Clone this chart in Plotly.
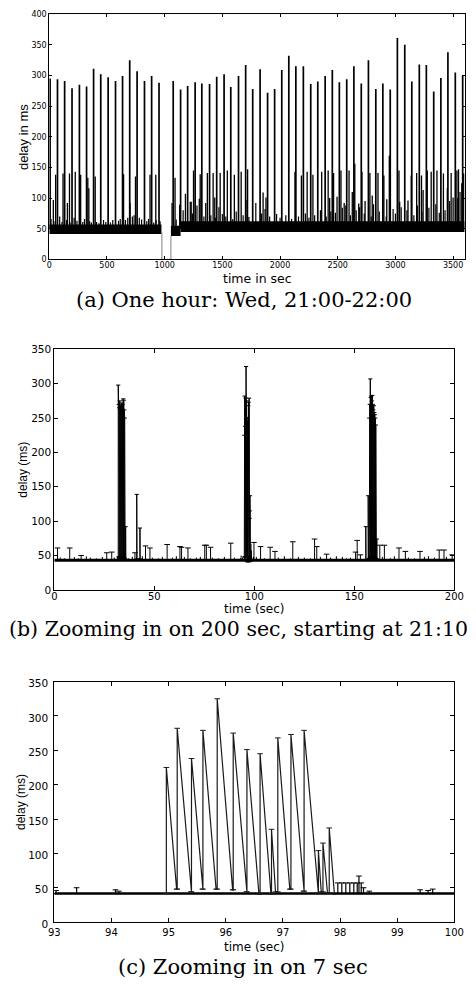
import plotly.graph_objects as go

W, H = 476, 985

# ---------------- Panel (a): one hour ----------------
A_big_t = [7, 71, 133, 197, 261, 323, 384, 446, 510, 574, 635, 697, 761, 825, 887, 951,
           1074, 1138, 1199, 1264, 1322, 1389, 1451, 1515, 1573, 1640, 1702, 1763, 1827,
           1892, 1953, 2015, 2076, 2137, 2202, 2266, 2327, 2391, 2453, 2514, 2578, 2640,
           2704, 2766, 2830, 2891, 2955, 3017, 3081, 3142, 3207, 3268, 3332, 3394, 3455,
           3519, 3583]
A_big_v = [295, 294, 291, 279, 285, 282, 311, 302, 297, 291, 299, 325, 307, 291, 299, 288,
           291, 277, 283, 289, 287, 286, 298, 302, 281, 299, 317, 278, 310,
           272, 278, 309, 332, 315, 315, 286, 290, 299, 309, 289, 294, 315,
           287, 325, 278, 287, 277, 361, 350, 290, 318, 317, 274, 296, 338,
           305, 300]
A_mid_t = [35, 55, 119, 157, 175, 225, 272, 334, 343, 398, 644, 700, 747, 873, 923, 1064,
           1090, 1130, 1180, 1222, 1230, 1250, 1300, 1308, 1356, 1370, 1420, 1434, 1481,
           1543, 1604, 1663, 1705, 1719, 1853, 1878, 2129, 2185, 2235, 2285, 2361, 2417,
           2430, 2464, 2494, 2528, 2556, 2598, 2626, 2648, 2682, 2710, 2737, 2779, 2799,
           2849, 2900, 2925, 2947, 3031, 3037, 3109, 3137, 3184, 3226, 3240, 3276, 3310,
           3360, 3416, 3450, 3483, 3500, 3533, 3547, 3575, 3592]
A_mid_v = [97, 138, 140, 92, 140, 143, 138, 133, 116, 135, 139, 92, 135, 138, 138, 92,
           133, 89, 107, 94, 94, 145, 99, 139, 92, 141, 141, 101, 141,
           145, 138, 143, 97, 147, 109, 101, 143, 137, 143, 138, 143, 145,
           100, 141, 102, 145, 92, 145, 110, 156, 91, 143, 95, 141, 104,
           141, 137, 98, 169, 145, 94, 96, 137, 141, 137, 113, 145, 143,
           145, 140, 116, 141, 101, 145, 147, 124, 140]
A_small_t = [15, 40, 90, 110, 150, 180, 215, 240, 290, 305, 350, 365, 410, 430, 470, 490,
             530, 550, 600, 615, 660, 680, 720, 735, 780, 800, 845, 860, 905, 925, 960,
             1100, 1160, 1240, 1280, 1340, 1400, 1440, 1470, 1500, 1530, 1590, 1620, 1680,
             1730, 1790, 1840, 1870, 1910, 1970, 2000, 2050, 2100, 2160, 2220, 2250, 2300,
             2350, 2400, 2440, 2480, 2540, 2570, 2610, 2660, 2690, 2730, 2790, 2810, 2860,
             2920, 2980, 3000, 3050, 3100, 3160, 3190, 3230, 3290, 3350, 3380, 3430, 3470,
             3540, 3560]
A_small_v = [66, 62, 70, 61, 64, 60, 68, 63, 61, 66, 62, 60, 61, 59, 64, 61,
             60, 64, 63, 66, 64, 68, 70, 72, 68, 65, 62, 66, 60, 64, 62,
             65, 80, 75, 88, 70, 72, 68, 85, 74, 70, 66, 78, 72,
             69, 92, 75, 82, 70, 74, 68, 72, 66, 70, 75, 68, 72,
             80, 70, 78, 76, 84, 88, 72, 80, 85, 75, 70, 90, 78,
             70, 82, 75, 85, 80, 72, 88, 78, 84, 90, 76, 80, 95,
             100, 110]
A_band_start = [0, 1054, 1138]
A_band_end = [972, 1138, 3600]
A_band_lo = [41.5, 38, 44.5]
A_band_hi = [57, 55, 62]
A_gap_t = [972, 976, 976, 1054, 1054, 1058]
A_gap_v = [44, 44, 0, 0, 38, 38]
A_xticks = [0, 500, 1000, 1500, 2000, 2500, 3000, 3500]
A_yticks = [0, 50, 100, 150, 200, 250, 300, 350, 400]

# ---------------- Panel (c): 7 seconds (also part of panel b) ----------------
C_peak_t = [94.96, 95.15, 95.40, 95.60, 95.85, 96.13, 96.37, 96.60, 96.80, 96.91, 97.14, 97.37, 97.62, 97.70, 97.81]
C_peak_v = [225, 282, 238, 279, 325, 275, 251, 245, 135, 268, 273, 279, 104, 115, 137]
C_end_t = [95.14, 95.39, 95.59, 95.83, 96.12, 96.36, 96.58, 96.79, 96.87, 97.12, 97.36, 97.61, 97.67, 97.78, 97.90]
C_end_v = [48, 44, 48, 48, 47, 44, 41, 41, 44, 48, 45, 42, 44, 42, 41]
C_spk_t = [93.03, 93.39, 94.07, 94.13, 97.96, 98.03, 98.10, 98.17, 98.24, 98.30, 98.33, 98.37, 98.41, 98.51, 99.40, 99.54, 99.62]
C_spk_v = [46, 50, 47, 45, 57, 57, 57, 57, 57, 57, 67, 57, 50, 45, 47, 46, 48]
C_base = 41.5
C_xticks = [93, 94, 95, 96, 97, 98, 99, 100]
BC_yticks = [0, 50, 100, 150, 200, 250, 300, 350]

# ---------------- Panel (b): 200 seconds ----------------
B1_peak_t = [31.95, 32.2, 32.45, 32.7, 32.95, 33.2, 33.45, 33.7, 33.95, 34.2, 34.45, 34.7, 34.95, 35.2, 35.65]
B1_peak_v = [298, 270, 265, 275, 262, 268, 258, 272, 264, 270, 278, 276, 262, 250, 92]
B1_end_t = [32.18, 32.43, 32.68, 32.93, 33.18, 33.43, 33.68, 33.93, 34.18, 34.43, 34.68, 34.93, 35.18, 35.4, 35.72]
B1_end_v = [48, 46, 47, 45, 48, 46, 47, 45, 46, 48, 47, 45, 46, 44, 43]
B2_peak_t = [41.2, 42.8]
B2_peak_v = [139, 90]
B2_end_t = [41.32, 42.9]
B2_end_v = [45, 44]
B4_peak_t = [155.7, 156.9, 157.45, 157.7, 157.95, 158.2, 158.45, 158.7, 158.95, 159.2, 159.45, 159.7, 159.95, 160.2, 160.45, 160.7, 161.2]
B4_peak_v = [92, 137, 250, 270, 307, 280, 282, 275, 283, 270, 262, 268, 258, 255, 250, 240, 74]
B4_end_t = [155.8, 157.05, 157.68, 157.93, 158.18, 158.43, 158.68, 158.93, 159.18, 159.43, 159.68, 159.93, 160.18, 160.43, 160.68, 160.95, 161.3]
B4_end_v = [44, 45, 46, 47, 45, 48, 46, 47, 45, 46, 44, 47, 45, 46, 44, 45, 43]
B_spk_t = [1.6, 7.7, 13.4, 26.2, 28.7, 40.3, 45.6, 47.8, 56.4, 62.8, 63.6, 66.8, 75.2, 76.0, 78.1,
           88.2, 99.8, 103.1, 107.9, 110.3, 119.2, 130.1, 131.2, 136.1, 150.6, 151.4, 153.0,
           162.7, 165.0, 172.3, 175.5, 182.8, 192.4, 194.8, 198.9]
B_spk_v = [61, 61, 50, 54, 55, 54, 64, 61, 66, 63, 62, 61, 65, 65, 62,
           68, 69, 63, 62, 56, 70, 74, 63, 52, 55, 72, 51,
           65, 65, 61, 56, 56, 58, 58, 51]
B_tiny_t = [3, 5, 10, 12, 16, 18, 21, 24, 30, 37, 39, 44, 49, 52, 54, 59, 61, 65, 68, 71, 73,
            79, 82, 85, 90, 101, 105, 112, 115, 118, 122, 125, 128, 133, 138, 141, 144, 146,
            148, 164, 168, 170, 177, 180, 185, 187, 190, 196]
B_tiny_v = [47, 46, 48, 46, 49, 47, 46, 48, 47, 46, 48, 49, 47, 46, 48, 47, 49, 48, 46, 47, 48,
            47, 46, 48, 47, 48, 46, 47, 49, 46, 48, 47, 46, 48, 47, 49, 48, 46,
            47, 48, 46, 49, 47, 46, 48, 49, 47, 48]
B_base = 43
B_xticks = [0, 50, 100, 150, 200]


def spikes(ts, vs, base):
    x, y = [], []
    for t, v in zip(ts, vs):
        x += [t, t, None]
        y += [base, v, None]
    return x, y


def teeth(pt, pv, et, ev, base):
    x, y = [], []
    prev = base
    for a, b, c, d in zip(pt, pv, et, ev):
        x += [a, a, c]
        y += [prev, b, d]
        prev = d
    return x, y


fig = go.Figure()
BLK = "#000000"

# ---- panel (a) traces
for t0, t1, lo, hi in zip(A_band_start, A_band_end, A_band_lo, A_band_hi):
    fig.add_trace(go.Scatter(x=[t0, t1, t1, t0, t0], y=[lo, lo, hi, hi, lo], fill="toself",
                             fillcolor=BLK, mode="lines", line=dict(width=0, color=BLK),
                             xaxis="x", yaxis="y"))
fig.add_trace(go.Scatter(x=A_gap_t, y=A_gap_v, mode="lines", line=dict(color="#808080", width=1),
                         xaxis="x", yaxis="y"))
x, y = spikes(A_small_t, A_small_v, 50)
fig.add_trace(go.Scatter(x=x, y=y, mode="lines", line=dict(color=BLK, width=1.2), xaxis="x", yaxis="y"))
x, y = spikes(A_mid_t, A_mid_v, 50)
fig.add_trace(go.Scatter(x=x, y=y, mode="lines", line=dict(color=BLK, width=1.3), xaxis="x", yaxis="y"))
x, y = spikes(A_big_t, A_big_v, 50)
fig.add_trace(go.Scatter(x=x, y=y, mode="lines", line=dict(color=BLK, width=1.7), xaxis="x", yaxis="y"))

# ---- panel (b) traces
fig.add_trace(go.Scatter(x=[B_xticks[0], B_xticks[-1]], y=[B_base, B_base], mode="lines",
                         line=dict(color=BLK, width=3), xaxis="x2", yaxis="y2"))
x, y = spikes(B_tiny_t, B_tiny_v, B_base)
fig.add_trace(go.Scatter(x=x, y=y, mode="lines", line=dict(color=BLK, width=1), xaxis="x2", yaxis="y2"))
x, y = spikes(B_spk_t, B_spk_v, B_base)
fig.add_trace(go.Scatter(x=x, y=y, mode="lines+markers", line=dict(color=BLK, width=1),
                         marker=dict(symbol="line-ew-open", size=4, line=dict(width=1, color=BLK)),
                         xaxis="x2", yaxis="y2"))
for pt, pv, et, ev in [(B1_peak_t, B1_peak_v, B1_end_t, B1_end_v),
                       (B2_peak_t, B2_peak_v, B2_end_t, B2_end_v),
                       (C_peak_t, C_peak_v, C_end_t, C_end_v),
                       (B4_peak_t, B4_peak_v, B4_end_t, B4_end_v)]:
    x, y = teeth(pt, pv, et, ev, B_base)
    fig.add_trace(go.Scatter(x=x, y=y, mode="lines+markers", line=dict(color=BLK, width=1),
                             marker=dict(symbol="line-ew-open", size=3, line=dict(width=1, color=BLK)),
                             xaxis="x2", yaxis="y2"))
x, y = spikes(C_spk_t, C_spk_v, B_base)
fig.add_trace(go.Scatter(x=x, y=y, mode="lines", line=dict(color=BLK, width=1), xaxis="x2", yaxis="y2"))

# ---- panel (c) traces
fig.add_trace(go.Scatter(x=[C_xticks[0], C_xticks[-1]], y=[C_base, C_base], mode="lines",
                         line=dict(color=BLK, width=2.5), xaxis="x3", yaxis="y3"))
x, y = teeth(C_peak_t, C_peak_v, C_end_t, C_end_v, C_base)
fig.add_trace(go.Scatter(x=x, y=y, mode="lines+markers", line=dict(color="#1a1a1a", width=1.2),
                         marker=dict(symbol="line-ew-open", size=4, line=dict(width=1, color=BLK)),
                         xaxis="x3", yaxis="y3"))
x, y = spikes(C_spk_t, C_spk_v, C_base)
fig.add_trace(go.Scatter(x=x, y=y, mode="lines+markers", line=dict(color=BLK, width=1.2),
                         marker=dict(symbol="line-ew-open", size=4, line=dict(width=1, color=BLK)),
                         xaxis="x3", yaxis="y3"))


def px(v):
    return v / W


def py(v):
    return 1 - v / H


def axis(rng, ticks, dom, size, anchor, ticklen=4, standoff=0, shift=0):
    return dict(range=rng, tickvals=ticks, domain=dom, anchor=anchor, showline=True,
                linecolor=BLK, linewidth=1, mirror="ticks", ticks="inside", ticklen=ticklen,
                tickcolor=BLK, tickwidth=1, showgrid=False, zeroline=False,
                ticklabelstandoff=standoff, ticklabelshift=shift,
                tickfont=dict(family="DejaVu Sans", size=size, color=BLK), fixedrange=True)


layout = dict(width=W, height=H, margin=dict(l=0, r=0, t=0, b=0), paper_bgcolor="white",
              plot_bgcolor="white", showlegend=False)
layout["xaxis"] = axis([0, 3600], A_xticks, [px(44.8), px(474.6)], 8, "y", 3, -2)
layout["yaxis"] = axis([0, 400], A_yticks, [py(257), py(8.3)], 8, "x", 3)
layout["xaxis2"] = axis([0, 200], B_xticks, [px(50), px(464)], 10, "y2", 4, -3)
layout["yaxis2"] = axis([0, 350], BC_yticks, [py(592.3), py(348.3)], 10.5, "x2")
layout["xaxis3"] = axis([93, 100], C_xticks, [px(50), px(464)], 10, "y3", 4, 1)
layout["yaxis3"] = axis([0, 350], BC_yticks, [py(929.3), py(685.3)], 10.5, "x3", 4, 3, 2)
fig.update_layout(**layout)


def note(text, x, y, size, family="DejaVu Sans", angle=0, xanchor="center"):
    fig.add_annotation(text=text, x=px(x), y=py(y), xref="paper", yref="paper", showarrow=False,
                       textangle=angle, xanchor=xanchor, yanchor="middle", borderpad=0,
                       font=dict(family=family, size=size, color=BLK))


note("time in sec", 260, 276, 12.5)
note("delay in ms", 17.5, 133, 13, "Liberation Sans", -90)
note("time (sec)", 257, 612, 12)
note("delay (ms)", 18, 470, 12, "Liberation Sans", -90)
note("time (sec)", 257, 955, 12)
note("delay (ms)", 15, 807, 12, "Liberation Sans", -90)
note("(a) One hour: Wed, 21:00-22:00", 246, 298, 21, "DejaVu Serif")
note("(b) Zooming in on 200 sec, starting at 21:10", 2, 632, 20.5, "DejaVu Serif", xanchor="left")
note("(c) Zooming in on 7 sec", 245, 975, 21, "DejaVu Serif")

fig.write_html("out.html", config={"displayModeBar": False},
               post_script="document.body.style.margin='0';")
